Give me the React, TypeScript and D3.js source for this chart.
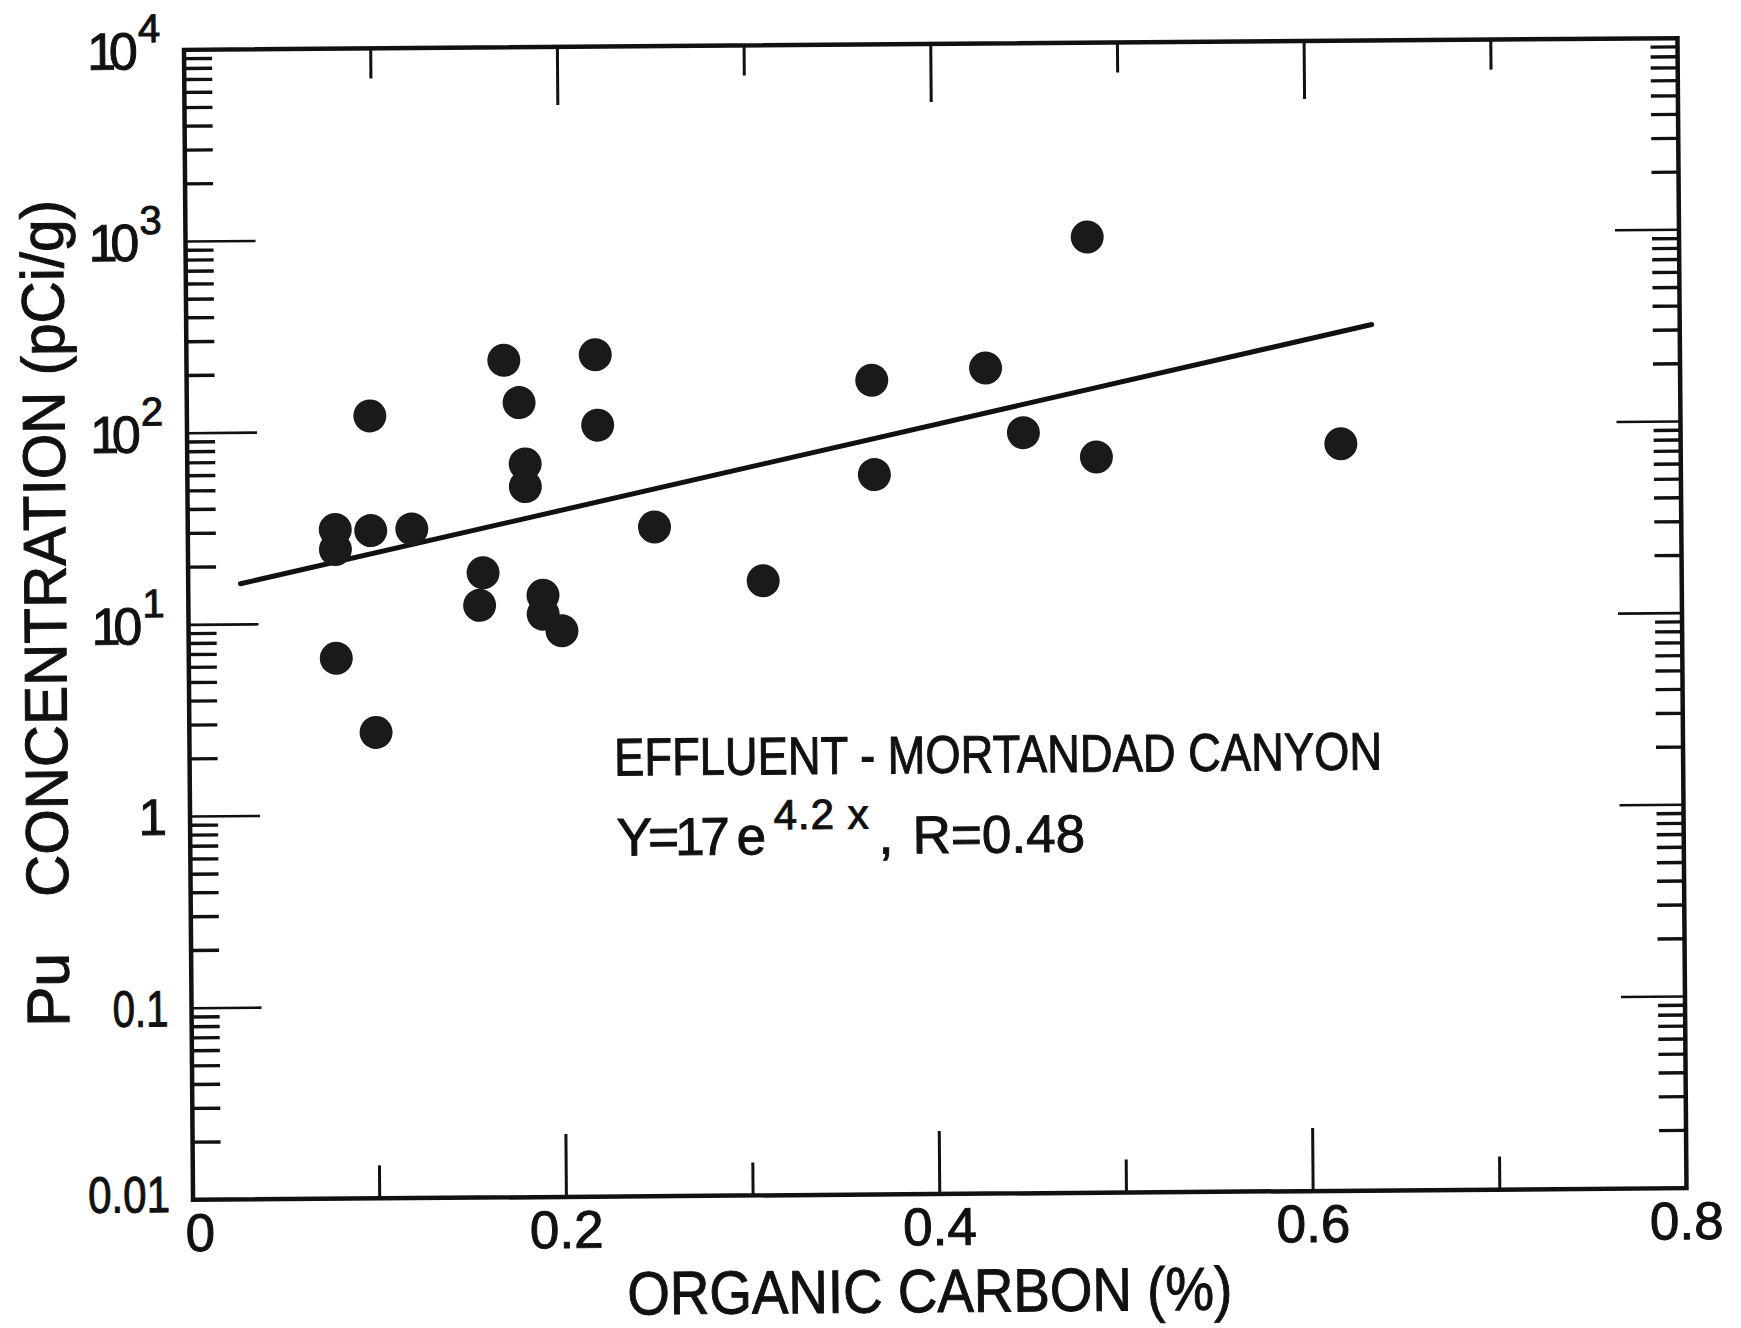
import React from 'react';
import * as d3 from 'd3';

// ---- data ----
const carbon = [0.079, 0.079, 0.098, 0.098, 0.079, 0.100, 0.120, 0.158, 0.156, 0.170, 0.178, 0.181, 0.181, 0.190, 0.190, 0.200, 0.219, 0.220, 0.250, 0.308, 0.367, 0.368, 0.428, 0.448, 0.483, 0.487, 0.618];
const pu = [31, 24.4, 30.5, 121, 6.6, 2.7, 31, 18.2, 12.3, 233, 140, 67, 51, 13.8, 11.0, 9.0, 247, 106, 31, 16.1, 177, 57, 203, 93, 970, 69, 79];
const fitX = [0.028, 0.635];
const fitY = [16.3, 330];

const xMajorTicks = [0, 0.2, 0.4, 0.6, 0.8];
const xTickLabels = ['0', '0.2', '0.4', '0.6', '0.8'];
const xMinorTicks = [0.1, 0.3, 0.5, 0.7];
const yDecades = [0.01, 0.1, 1, 10, 100, 1000, 10000];
const yTickBase = ['0.01', '0.1', '1', '10', '10', '10', '10'];
const yTickExp = ['', '', '', '1', '2', '3', '4'];

const xTitle = 'ORGANIC CARBON (%)';
const yTitleA = 'Pu';
const yTitleB = 'CONCENTRATION (pCi/g)';
const noteLine1 = 'EFFLUENT - MORTANDAD CANYON';
const noteEq = ['Y=17 e', '4.2 x', ',', 'R=0.48'];

export default function App() {
  const W = 1741, H = 1328;
  const L = 188.5, R = 1682, T = 44, B = 1194;
  const x = d3.scaleLinear().domain([0, 0.8]).range([L, R]);
  const y = d3.scaleLog().domain([0.01, 1e4]).range([B, T]);
  const font = "'Liberation Sans', Arial, sans-serif";
  const ink = '#111';

  const minorY: number[] = [];
  for (let i = 0; i < yDecades.length - 1; i++) {
    for (let m = 2; m <= 9; m++) minorY.push(yDecades[i] * m);
  }
  const innerDecades = yDecades.slice(1, -1);

  const fitPath = d3.line<number>()
    .x((d) => x(d))
    .y((d, i) => y(fitY[i]))(fitX) || '';

  const plainWidths: Record<string, number> = { '0.01': 82, '0.1': 56 };

  return (
    <svg width={W} height={H} viewBox={`0 0 ${W} ${H}`}
      style={{ position: 'absolute', left: 0, top: 0, background: '#fff', display: 'block' }}>
      <rect x={0} y={0} width={W} height={H} fill="#fff" />
      <g transform="rotate(-0.45 935.5 618.75)">
        {/* frame */}
        <rect x={L} y={T} width={R - L} height={B - T} fill="none" stroke={ink} strokeWidth={4.5} />

        {/* x ticks bottom/top */}
        {xMajorTicks.slice(1, -1).map((v) => (
          <g key={'xm' + v} stroke={ink} strokeWidth={3}>
            <line x1={x(v)} x2={x(v)} y1={B} y2={B - 63} />
            <line x1={x(v)} x2={x(v)} y1={T} y2={T + 58} />
          </g>
        ))}
        {xMinorTicks.map((v) => (
          <g key={'xn' + v} stroke={ink} strokeWidth={3}>
            <line x1={x(v)} x2={x(v)} y1={B} y2={B - 33} />
            <line x1={x(v)} x2={x(v)} y1={T} y2={T + 30} />
          </g>
        ))}

        {/* y ticks left/right */}
        {innerDecades.map((v) => (
          <g key={'ym' + v} stroke={ink} strokeWidth={2.6}>
            <line x1={L} x2={L + 70} y1={y(v)} y2={y(v)} />
            <line x1={R} x2={R - 64} y1={y(v)} y2={y(v)} />
          </g>
        ))}
        {minorY.map((v) => (
          <g key={'yn' + v} stroke={ink} strokeWidth={3.4}>
            <line x1={L} x2={L + 28} y1={y(v)} y2={y(v)} />
            <line x1={R} x2={R - 27} y1={y(v)} y2={y(v)} />
          </g>
        ))}

        {/* regression line */}
        <path d={fitPath} fill="none" stroke={ink} strokeWidth={5} strokeLinecap="round" />

        {/* points */}
        {carbon.map((c, i) => (
          <circle key={'p' + i} cx={x(c)} cy={y(pu[i])} r={16.5} fill="#1a1a1a" />
        ))}

        <g fontFamily={font} fill={ink} stroke={ink} strokeWidth={1}>
          {/* x tick labels */}
          {xMajorTicks.map((v, i) => (
            <text key={'xl' + v} x={x(v) + (i === 0 ? 7 : 0)} y={B + 51} fontSize={53} textAnchor="middle">
              {xTickLabels[i]}
            </text>
          ))}

          {/* y tick labels */}
          {yDecades.map((v, i) => (
            yTickExp[i] === '' ? (
              <text key={'yl' + v} x={L - 23} y={y(v) + (i === 0 ? 12 : 18)} fontSize={51} textAnchor="end"
                {...(plainWidths[yTickBase[i]] ? { textLength: plainWidths[yTickBase[i]], lengthAdjust: 'spacingAndGlyphs' } : {})}>
                {yTickBase[i]}
              </text>
            ) : (
              <g key={'yl' + v}>
                <text x={L - 97} y={y(v) + 19} fontSize={52} letterSpacing={-7}>
                  {yTickBase[i]}
                </text>
                <text x={L - 46} y={y(v) - 8} fontSize={40} textAnchor="start">
                  {yTickExp[i]}
                </text>
              </g>
            )
          ))}

          {/* axis titles */}
          <text x={622} y={1312} fontSize={61} textLength={605} lengthAdjust="spacingAndGlyphs">{xTitle}</text>
          <text transform="translate(66 1020) rotate(-90)" fontSize={60} textLength={74} lengthAdjust="spacingAndGlyphs">{yTitleA}</text>
          <text transform="translate(66 890) rotate(-90)" fontSize={60} textLength={697} lengthAdjust="spacingAndGlyphs">{yTitleB}</text>

          {/* annotation */}
          <text x={613} y={773} fontSize={53} textLength={768} lengthAdjust="spacingAndGlyphs">{noteLine1}</text>
          <text fontSize={53}>
            <tspan x={615} y={853} letterSpacing={-4}>{noteEq[0]}</tspan>
            <tspan x={772} y={828} fontSize={42} letterSpacing={1}>{noteEq[1]}</tspan>
            <tspan x={877} y={853}>{noteEq[2]}</tspan>
            <tspan x={911} y={853}>{noteEq[3]}</tspan>
          </text>
        </g>
      </g>
    </svg>
  );
}
